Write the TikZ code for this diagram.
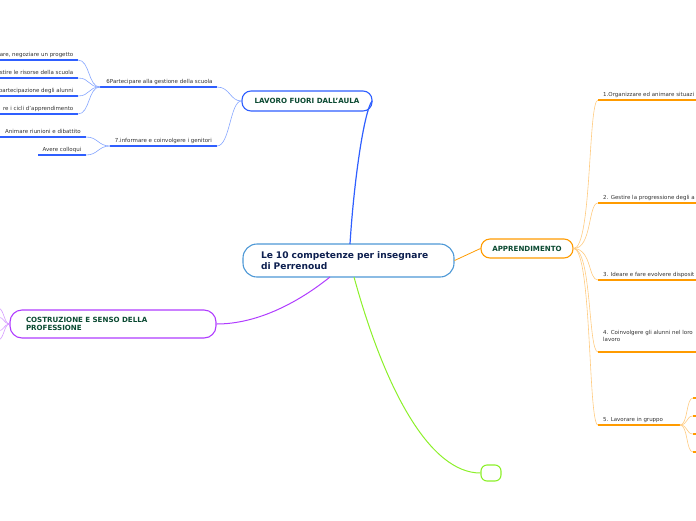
\documentclass[tikz,border=0pt]{standalone}
\usepackage{fontspec}
\setmainfont{DejaVu Sans}
\definecolor{cblue}{HTML}{2F5FFF}
\definecolor{lblue}{HTML}{86A6FF}
\definecolor{corange}{HTML}{FF9B00}
\definecolor{lorange}{HTML}{FFCB80}
\definecolor{cpurple}{HTML}{B03CFF}
\definecolor{lpurple}{HTML}{D49AFF}
\definecolor{cgreen}{HTML}{8CF02A}
\definecolor{ccentral}{HTML}{4D98D6}
\definecolor{tgreen}{HTML}{0B4A32}
\definecolor{tnavy}{HTML}{0D1F4F}
\definecolor{tgray}{HTML}{333333}
\tikzset{
  mainbox/.style={draw, line width=1.1pt, fill=white, rounded corners=9pt, font=\bfseries\fontsize{7.1}{8.5}\selectfont, text=tgreen, inner sep=0pt},
  small/.style={font=\fontsize{5.5}{6.3}\selectfont, text=tgray, inner sep=0pt},
  thinline/.style={line width=0.6pt},
  uline/.style={line width=1.6pt},
}
\begin{document}
\begin{tikzpicture}[x=1pt,y=-1pt]
\useasboundingbox (0,0) rectangle (696,520);
\clip (0,0) rectangle (696,520);

% ---------- nodes ----------
\node[mainbox, draw=ccentral, rounded corners=14pt, minimum height=33pt, text width=175pt, inner xsep=18pt, align=left, text=tnavy, font=\bfseries\fontsize{9.1}{11}\selectfont] (central) at (348.5,260.5) {\mbox{Le 10 competenze per insegnare}\\di Perrenoud};
\node[mainbox, draw=cblue, minimum width=130pt, minimum height=20pt] (lavoro) at (307,101) {LAVORO FUORI DALL'AULA};
\node[mainbox, draw=corange, minimum width=92pt, minimum height=19pt] (appr) at (527,248.5) {APPRENDIMENTO};
\node[mainbox, draw=cpurple, rounded corners=12pt, minimum height=28pt, text width=174pt, inner xsep=16pt, align=left] (costr) at (113,324) {COSTRUZIONE E SENSO DELLA\\PROFESSIONE};
\node[draw=cgreen, line width=1.1pt, rounded corners=6pt, minimum width=20pt, minimum height=16pt, inner sep=0pt] (green) at (491,473) {};

% ---------- anchor coordinates ----------
\coordinate (cTop) at (350,244);
\coordinate (cBotL) at (330,277);
\coordinate (cBotR) at (354,277);
\coordinate (lavR) at (372,101);

% ---------- main connectors ----------
\draw[cblue, line width=1.2pt] (cTop) .. controls (354,180) and (364,112) .. (lavR);
\draw[corange, line width=0.8pt] (central.east) -- (appr.west);
\draw[cpurple, line width=1pt] (cBotL) .. controls (295,305) and (255,324) .. (costr.east);
\draw[cgreen, line width=1pt] (cBotR) .. controls (385,390) and (430,473) .. (green.west);

% ---------- LAVORO children ----------
\coordinate (p6L) at (100,87); \coordinate (p6R) at (217,87);
\coordinate (p7L) at (110,146); \coordinate (p7R) at (217,146);
\draw[cblue, uline] (p6L) -- (p6R);
\draw[cblue, uline] (p7L) -- (p7R);
\node[small, anchor=base] (t6) at (159.5,83) {6Partecipare alla gestione della scuola};
\node[small, anchor=base] (t7) at (163.5,142) {7.informare e coinvolgere i genitori};
\draw[lblue, thinline] (lavoro.west) .. controls (230,101) and (230,87) .. (p6R);
\draw[lblue, thinline] (lavoro.west) .. controls (230,101) and (230,146) .. (p7R);

% children of 6
\foreach \y/\nm/\txt in {60/a/{are, negoziare un progetto}, 78/b/{stire le risorse della scuola}, 96/c/{partecipazione degli alunni}, 114/d/{re i cicli d'apprendimento}}{
  \coordinate (s\nm L) at (0,\y);
  \coordinate (s\nm R) at (78,\y);
  \draw[cblue, uline] (s\nm L) -- (s\nm R);
  \node[small, anchor=base east] (st\nm) at (73.5,\y-4) {\txt};
  \draw[lblue, thinline] (p6L) .. controls (88,87) and (90,\y) .. (s\nm R);
}
% children of 7
\coordinate (s7aL) at (0,137); \coordinate (s7aR) at (86,137);
\coordinate (s7bL) at (38,155); \coordinate (s7bR) at (86,155);
\draw[cblue, uline] (s7aL) -- (s7aR);
\draw[cblue, uline] (s7bL) -- (s7bR);
\node[small, anchor=base west] (st7a) at (5,133) {Animare riunioni e dibattito};
\node[small, anchor=base east] (st7b) at (81.5,151) {Avere colloqui};
\draw[lblue, thinline] (p7L) .. controls (98,146) and (98,137) .. (s7aR);
\draw[lblue, thinline] (p7L) .. controls (98,146) and (98,155) .. (s7bR);

% ---------- APPRENDIMENTO children ----------
\foreach \y/\nm in {100/a, 203/b, 280/c, 352/d, 425/e}{
  \coordinate (r\nm L) at (598,\y);
  \draw[lorange, thinline] (appr.east) .. controls (592,249) and (588,\y) .. (r\nm L);
}
\coordinate (raR) at (700,100);
\coordinate (rbR) at (700,203);
\coordinate (rcR) at (700,280);
\coordinate (rdR) at (700,352);
\coordinate (reR) at (680,425);
\foreach \nm in {a,b,c,d,e}{ \draw[corange, uline] (r\nm L) -- (r\nm R); }
\node[small, anchor=base west] (ra) at (603,96) {1.Organizzare ed animare situazi};
\node[small, anchor=base west] (rb) at (603,199) {2. Gestire la progressione degli a};
\node[small, anchor=base west] (rc) at (603,276) {3. Ideare e fare evolvere disposit};
\node[small, anchor=base west, align=left] (rd) at (603,341) {4. Coinvolgere gli alunni nel loro\\lavoro};
\node[small, anchor=base west] (re) at (603,421) {5. Lavorare in gruppo};
% children of 5
\foreach \y/\nm in {398/a, 416/b, 434/c, 452/d}{
  \coordinate (g\nm L) at (693,\y);
  \coordinate (g\nm R) at (700,\y);
  \draw[lorange, thinline] (reR) .. controls (688,425) and (686,\y) .. (g\nm L);
  \draw[corange, uline] (g\nm L) -- (g\nm R);
}

% ---------- COSTRUZIONE left stubs ----------
\foreach \y/\nm in {308/a, 317/b, 331/c, 340/d}{
  \coordinate (k\nm) at (-2,\y);
  \draw[lpurple, thinline] (costr.west) .. controls (4,324) and (4,\y) .. (k\nm);
}
\end{tikzpicture}
\end{document}
